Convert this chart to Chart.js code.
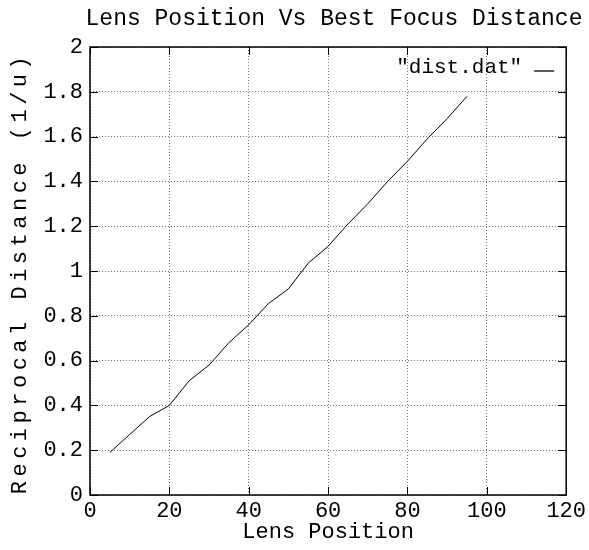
<!DOCTYPE html>
<html>
<head>
<meta charset="utf-8">
<script src="https://cdn.jsdelivr.net/npm/chart.js@4.4.1/dist/chart.umd.min.js"></script>
<style>
  html, body { margin: 0; padding: 0; background: #fff; }
  #wrap { width: 589px; height: 550px; }
</style>
</head>
<body>
<div id="wrap"><canvas id="chart" width="589" height="550"></canvas></div>
<script>
const lensPosition = [5, 10, 15, 20, 25, 30, 35, 40, 45, 50, 55, 60, 65, 70, 75, 80, 85, 90, 95]
const reciprocalDistance = [0.19, 0.27, 0.35, 0.40, 0.51, 0.58, 0.68, 0.76, 0.855, 0.92, 1.035, 1.11, 1.21, 1.30, 1.40, 1.49, 1.59, 1.68, 1.78]
const seriesLabel = '"dist.dat"'
const chartTitle = 'Lens Position Vs Best Focus Distance'
const xTitle = 'Lens Position'
const yTitle = 'Reciprocal Distance (1/u)'

const FONT = "'Liberation Mono', 'DejaVu Sans Mono', monospace"

// gnuplot-ish frame, inward ticks, legend and titles
const gnuplotDecor = {
    id: 'gnuplotDecor',
    afterDraw(chart) {
        const ctx = chart.ctx
        const a = chart.chartArea
        const xs = chart.scales.x
        const ys = chart.scales.y
        ctx.save()
        ctx.strokeStyle = '#000'
        ctx.lineWidth = 1.5
        ctx.strokeRect(a.left, a.top, a.right - a.left, a.bottom - a.top)

        ctx.lineWidth = 1
        ctx.beginPath()
        xs.ticks.forEach(t => {
            const px = Math.round(xs.getPixelForValue(t.value)) + 0.5
            ctx.moveTo(px, a.bottom); ctx.lineTo(px, a.bottom - 8)
            ctx.moveTo(px, a.top); ctx.lineTo(px, a.top + 8)
        })
        ys.ticks.forEach(t => {
            const py = Math.round(ys.getPixelForValue(t.value)) + 0.5
            ctx.moveTo(a.left, py); ctx.lineTo(a.left + 8, py)
            ctx.moveTo(a.right, py); ctx.lineTo(a.right - 8, py)
        })
        ctx.stroke()

        // legend: text then line sample
        ctx.fillStyle = '#000'
        ctx.font = '21px ' + FONT
        ctx.textAlign = 'right'
        ctx.textBaseline = 'middle'
        ctx.fillText(seriesLabel, a.right - 44, a.top + 20)
        ctx.lineWidth = 1.3
        ctx.beginPath()
        ctx.moveTo(a.right - 32, a.top + 24)
        ctx.lineTo(a.right - 12, a.top + 24)
        ctx.stroke()

        // main title
        ctx.font = '23px ' + FONT
        ctx.textAlign = 'center'
        ctx.fillText(chartTitle, 334, 19)

        // y axis title, rotated
        ctx.translate(20, 275)
        ctx.rotate(-Math.PI / 2)
        ctx.font = '22px ' + FONT
        ctx.letterSpacing = '4.5px'
        ctx.fillText(yTitle, 2, 0)
        ctx.restore()
    }
}

const ctx = document.getElementById('chart').getContext('2d')
const chart = new Chart(ctx, {
    type: 'line',
    data: {
        datasets: [{
            label: seriesLabel,
            data: lensPosition.map((x, i) => ({ x: x, y: reciprocalDistance[i] })),
            borderColor: '#000',
            borderWidth: 1,
            pointRadius: 0,
            tension: 0,
            fill: false
        }]
    },
    options: {
        responsive: false,
        animation: false,
        layout: { padding: { top: 47, right: 22, left: 0, bottom: 0 } },
        plugins: {
            legend: { display: false },
            title: { display: false },
            tooltip: { enabled: false }
        },
        scales: {
            x: {
                type: 'linear',
                min: 0,
                max: 120,
                ticks: {
                    stepSize: 20,
                    color: '#000',
                    padding: 3,
                    maxRotation: 0,
                    font: { family: FONT, size: 22 }
                },
                grid: {
                    color: 'rgba(0,0,0,0.55)',
                    drawTicks: false
                },
                border: { display: false, dash: [1, 2] },
                title: {
                    display: true,
                    text: xTitle,
                    color: '#000',
                    padding: { top: 0, bottom: 5 },
                    font: { family: FONT, size: 22 }
                },
                afterFit(scale) { scale.height = 55 }
            },
            y: {
                min: 0,
                max: 2,
                ticks: {
                    stepSize: 0.2,
                    color: '#000',
                    padding: 7,
                    font: { family: FONT, size: 22 },
                    callback: v => String(Number(v.toFixed(2)))
                },
                grid: {
                    color: 'rgba(0,0,0,0.55)',
                    drawTicks: false
                },
                border: { display: false, dash: [1, 2] },
                afterFit(scale) { scale.width = 90 }
            }
        }
    },
    plugins: [gnuplotDecor]
})
</script>
</body>
</html>
